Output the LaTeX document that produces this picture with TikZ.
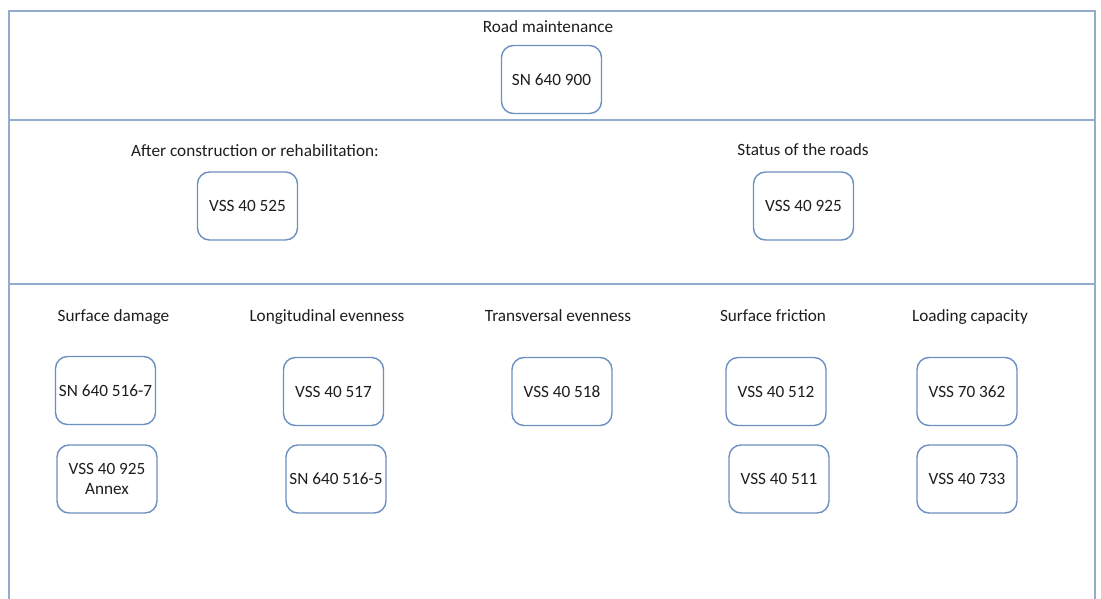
\documentclass[tikz,border=0pt]{standalone}
\usepackage{fontspec}
\setmainfont{Carlito}
\definecolor{framecol}{RGB}{146,172,205}
\definecolor{boxcol}{RGB}{108,145,192}
\definecolor{txtcol}{RGB}{30,30,30}
\begin{document}
\begin{tikzpicture}[x=1pt,y=-1pt,
  every node/.style={text=txtcol,font=\fontsize{17.2}{20}\selectfont},
  stdbox/.style={draw=boxcol,line width=1.4pt,rounded corners=12pt,fill=white,
    minimum width=100pt,minimum height=68pt,inner sep=1pt,align=center},
  heading/.style={anchor=base,inner sep=0pt},
  frameline/.style={draw=framecol,line width=2pt}]
\useasboundingbox (0,0) rectangle (1101,599);
\fill[white] (0,0) rectangle (1101,599);

% section frame, open at the bottom
\draw[frameline] (8.5,600) -- (8.5,11) -- (1095,11) -- (1095,600);
\draw[frameline] (8.5,120) -- (1095,120);
\draw[frameline] (8.5,284) -- (1095,284);

% top section
\node[heading] (hroad) at (548,33) {Road maintenance};
\node[stdbox] (sn640900) at (551.5,79.5) {SN 640 900};

% middle section
\node[heading] (hafter) at (255,156.5) {After construction or rehabilitation:};
\node[stdbox] (vss40525) at (247.5,206) {VSS 40 525};
\node[heading] (hstatus) at (803,156) {Status of the roads};
\node[stdbox] (vss40925) at (803.5,206) {VSS 40 925};

% lower section: headings
\node[heading] (hsurf) at (113.5,321) {Surface damage};
\node[heading] (hlong) at (327,321) {Longitudinal evenness};
\node[heading] (htrans) at (558,321) {Transversal evenness};
\node[heading] (hfric) at (773,321) {Surface friction};
\node[heading] (hload) at (970,321) {Loading capacity};

% lower section: standards
\node[stdbox] (sn6405167) at (105.5,390.5) {SN 640 516-7};
\node[stdbox] (vss40925a) at (107,479) {VSS 40 925\\Annex};
\node[stdbox] (vss40517) at (333.5,391.5) {VSS 40 517};
\node[stdbox] (sn6405165) at (336,479) {SN 640 516-5};
\node[stdbox] (vss40518) at (562,391.5) {VSS 40 518};
\node[stdbox] (vss40512) at (776,391.5) {VSS 40 512};
\node[stdbox] (vss40511) at (779,479) {VSS 40 511};
\node[stdbox] (vss70362) at (967,391.5) {VSS 70 362};
\node[stdbox] (vss40733) at (967,479) {VSS 40 733};
\end{tikzpicture}
\end{document}
